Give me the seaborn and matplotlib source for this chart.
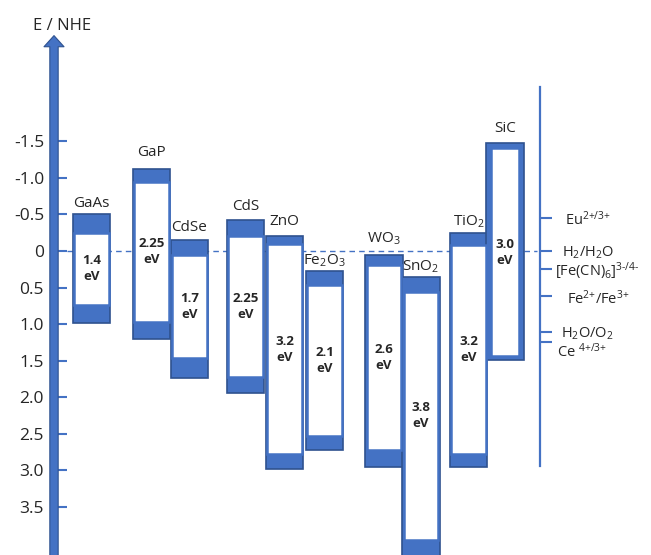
import matplotlib
matplotlib.use('Agg')
import matplotlib.pyplot as plt
import seaborn as sns

# band edges (E vs NHE, eV)
materials = ['GaAs', 'GaP', 'CdSe', 'CdS', 'ZnO', 'Fe$_2$O$_3$', 'WO$_3$', 'SnO$_2$', 'TiO$_2$', 'SiC']
gaps = ['1.4', '2.25', '1.7', '2.25', '3.2', '2.1', '2.6', '3.8', '3.2', '3.0']
cb_top = [-0.50, -1.12, -0.15, -0.43, -0.21, 0.28, 0.05, 0.36, -0.25, -1.48]
cb_inner = [-0.25, -0.95, 0.05, -0.21, -0.09, 0.47, 0.19, 0.56, -0.08, -1.41]
vb_inner = [0.74, 0.97, 1.46, 1.73, 2.78, 2.54, 2.73, 3.96, 2.78, 1.44]
vb_bottom = [0.99, 1.21, 1.74, 1.95, 2.98, 2.72, 2.96, 4.30, 2.96, 1.49]

redox_names = ['Eu$^{2{+}/3{+}}$', 'H$_2$/H$_2$O', '[Fe(CN)$_6$]$^{3\u2010/4\u2010}$',
               'Fe$^{2{+}}$/Fe$^{3{+}}$', 'H$_2$O/O$_2$', 'Ce $^{4{+}/3{+}}$']
redox_pot = [-0.45, 0.0, 0.24, 0.62, 1.11, 1.24]

ticks = [-1.5, -1.0, -0.5, 0, 0.5, 1.0, 1.5, 2.0, 2.5, 3.0, 3.5]
tick_labels = ['-1.5', '-1.0', '-0.5', '0', '0.5', '1.0', '1.5', '2.0', '2.5', '3.0', '3.5']

# layout (figure pixels along x)
x_pos = [91.5, 151.5, 189.5, 245.5, 284.5, 324.5, 384, 421, 468.5, 505]
bar_w = 37.5
inset = [3, 3, 3, 3, 3, 3, 3, 3, 3, 9]
label_gap = [0.05, 0.12, 0.07, 0.07, 0.09, 0.04, 0.10, 0.03, 0.04, 0.10]
redox_x = [565, 562, 555, 567, 561, 557]
redox_dy = [0, 0, 0, 0, -0.01, 0.11]

blue = '#4472C4'
dark = '#2F528F'
txt = '#262626'

sns.set_theme(style='white')
plt.rcParams['font.family'] = ['Open Sans', 'DejaVu Sans']
plt.rcParams['mathtext.fontset'] = 'custom'
plt.rcParams['mathtext.rm'] = 'Open Sans'
plt.rcParams['mathtext.bf'] = 'Open Sans:bold'
plt.rcParams['mathtext.default'] = 'regular'

fig = plt.figure(figsize=(6.51, 5.55), dpi=100)
ax = fig.add_axes([0, 0, 1, 1])
ax.set_xlim(0, 651)
ax.set_ylim(4.164, -3.438)
ax.set_facecolor('white')

# outer band blocks, then white gap boxes
for i in range(len(materials)):
    ax.bar(x_pos[i], vb_bottom[i] - cb_top[i], bottom=cb_top[i], width=bar_w,
           color=blue, edgecolor=dark, linewidth=1.2, zorder=2)
    ax.bar(x_pos[i], vb_inner[i] - cb_inner[i], bottom=cb_inner[i], width=bar_w - inset[i],
           color='white', edgecolor=blue, linewidth=1.8, zorder=3)
    ax.text(x_pos[i], (cb_inner[i] + vb_inner[i]) / 2, gaps[i] + '\neV', ha='center', va='center',
            fontsize=9.5, fontweight='bold', color=txt, linespacing=1.3, zorder=4)
    ax.text(x_pos[i], cb_top[i] - label_gap[i], materials[i], ha='center', va='bottom',
            fontsize=11, color=txt, zorder=4)

# water reduction level
ax.hlines(0, 67, 537, colors=blue, linestyles=(0, (4, 3)), linewidth=1, zorder=1)

# left axis: thick arrow with ticks
ax.annotate('', xy=(54, -2.95), xytext=(54, 4.3),
            arrowprops=dict(arrowstyle='simple,head_length=0.4,head_width=0.72,tail_width=0.3',
                            mutation_scale=20, fc=blue, ec=dark, lw=0.8, shrinkA=0, shrinkB=0))
for s in ['top', 'right', 'bottom']:
    ax.spines[s].set_visible(False)
ax.spines['left'].set_position(('data', 58))
ax.spines['left'].set_visible(False)
ax.set_yticks(ticks)
ax.set_yticklabels(tick_labels)
ax.tick_params(axis='y', direction='in', length=6.5, width=1.5, color=blue,
               pad=10, labelsize=12.5, labelcolor=txt, left=True)
ax.set_xticks([])
ax.text(62, -3.08, 'E / NHE', ha='center', va='center', fontsize=12, color=txt)

# right axis: redox couples
ax2 = ax.twinx()
ax2.set_ylim(4.164, -3.438)
for s in ['top', 'left', 'bottom']:
    ax2.spines[s].set_visible(False)
ax2.spines['right'].set_position(('data', 540))
ax2.spines['right'].set_bounds(-2.25, 2.95)
ax2.spines['right'].set_color(blue)
ax2.spines['right'].set_linewidth(1.6)
ax2.set_yticks(redox_pot)
ax2.set_yticklabels([])
ax2.tick_params(axis='y', direction='out', length=8.5, width=1.5, color=blue, right=True)
for name, pot, xr, dy in zip(redox_names, redox_pot, redox_x, redox_dy):
    ax.text(xr, pot + dy, name, ha='left', va='center_baseline', fontsize=10.5, color=txt)

fig.savefig('out.png', dpi=100)
